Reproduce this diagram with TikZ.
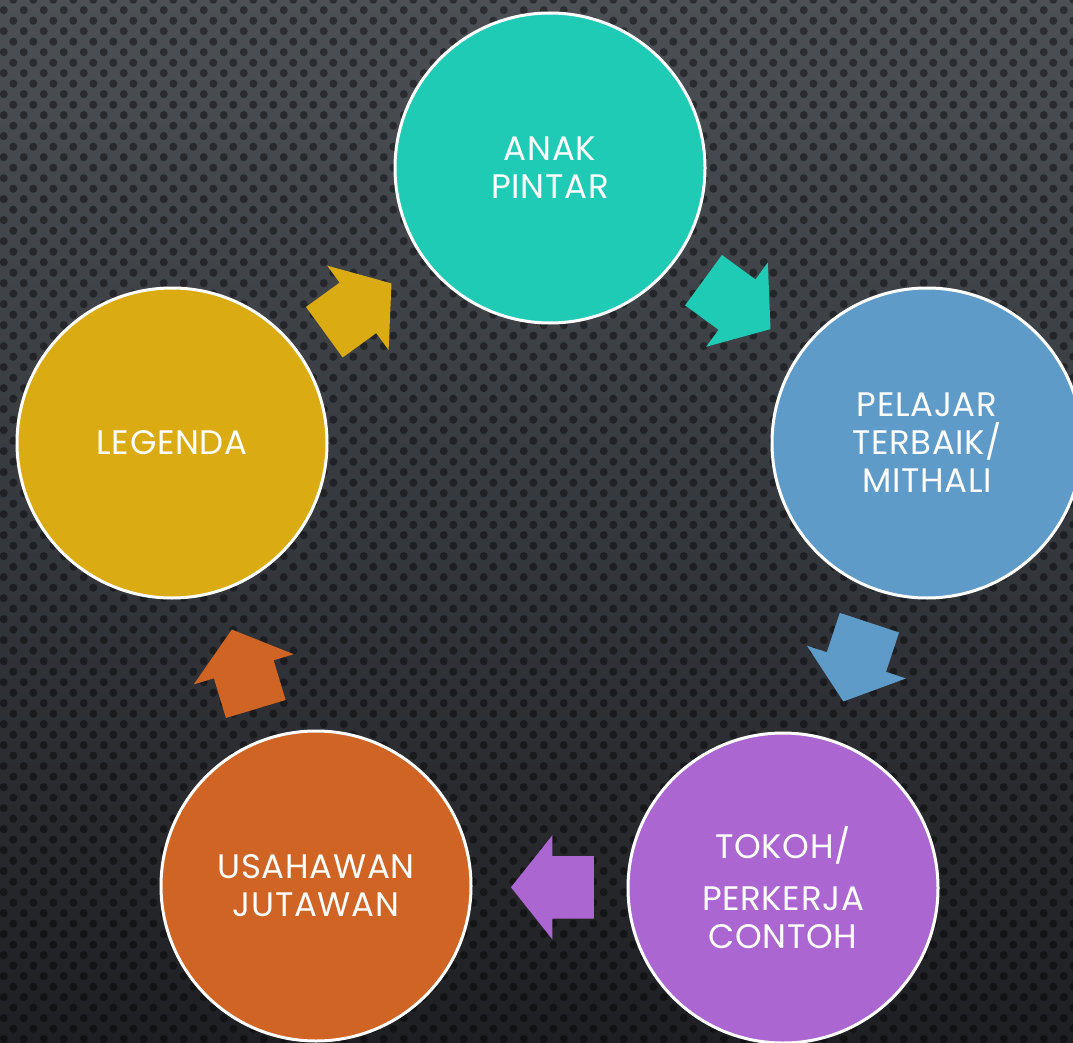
\documentclass[tikz,border=0pt]{standalone}
\usepackage{fontspec}
\setmainfont{Poppins}[LetterSpace=2]
\usetikzlibrary{shapes.arrows,patterns,positioning}
\definecolor{bgtop}{HTML}{4C4F54}
\definecolor{bgmid}{HTML}{35383D}
\definecolor{bgbot}{HTML}{1E1F22}
\definecolor{anak}{HTML}{20CBB6}
\definecolor{pelajar}{HTML}{5F9BC9}
\definecolor{tokoh}{HTML}{AC66D2}
\definecolor{usahawan}{HTML}{D06424}
\definecolor{legenda}{HTML}{DBAB14}
\pgfdeclarepatternformonly{hexdots}{\pgfpointorigin}{\pgfpoint{20pt}{21.4pt}}{\pgfpoint{20pt}{21.4pt}}{%
    \pgfpathcircle{\pgfpoint{5pt}{5pt}}{4.2pt}%
    \pgfpathcircle{\pgfpoint{15pt}{15.7pt}}{4.2pt}%
    \pgfusepath{fill}}
\tikzset{
    stage/.style={circle,draw=white,line width=3pt,minimum size=310pt,inner sep=0pt,text=white,align=center,font=\fontsize{34}{38}\selectfont},
    flow/.style={single arrow,draw=none,minimum height=83pt,inner xsep=0pt,inner ysep=31pt,single arrow head extend=21pt,single arrow tip angle=103,single arrow head indent=0pt,anchor=tip}
}

\begin{document}
\begin{tikzpicture}[x=1pt,y=-1pt]
    \useasboundingbox (0,0) rectangle (1073,1043);
    \clip (0,0) rectangle (1073,1043);
    \shade[top color=bgtop,bottom color=bgbot,middle color=bgmid] (0,0) rectangle (1073,1043);
    \fill[pattern=hexdots,pattern color=black,fill opacity=0.42] (0,0) rectangle (1073,1043);

    \node[stage,fill=anak]     (anak)     at (550,168) {ANAK\\PINTAR};
    \node[stage,fill=pelajar]  (pelajar)  at (927,443) {PELAJAR\\TERBAIK/\\MITHALI};
    \node[stage,fill=tokoh]    (tokoh)    at (783,888) {TOKOH/\\[14pt]PERKERJA\\CONTOH};
    \node[stage,fill=usahawan] (usahawan) at (316,886) {USAHAWAN\\JUTAWAN};
    \node[stage,fill=legenda]  (legenda)  at (172,443) {LEGENDA};

    \node[flow,fill=anak,rotate=-36.2]     (anak to pelajar)     at (770.7,329.3) {};
    \node[flow,fill=pelajar,rotate=-108.3] (pelajar to tokoh)    at (843.3,701.7) {};
    \node[flow,fill=tokoh,rotate=180]      (tokoh to usahawan)   at (510.7,887.3) {};
    \node[flow,fill=usahawan,rotate=106.8] (usahawan to legenda) at (231.7,629.3) {};
    \node[flow,fill=legenda,rotate=36]     (legenda to anak)     at (391.7,283.3) {};
\end{tikzpicture}
\end{document}
